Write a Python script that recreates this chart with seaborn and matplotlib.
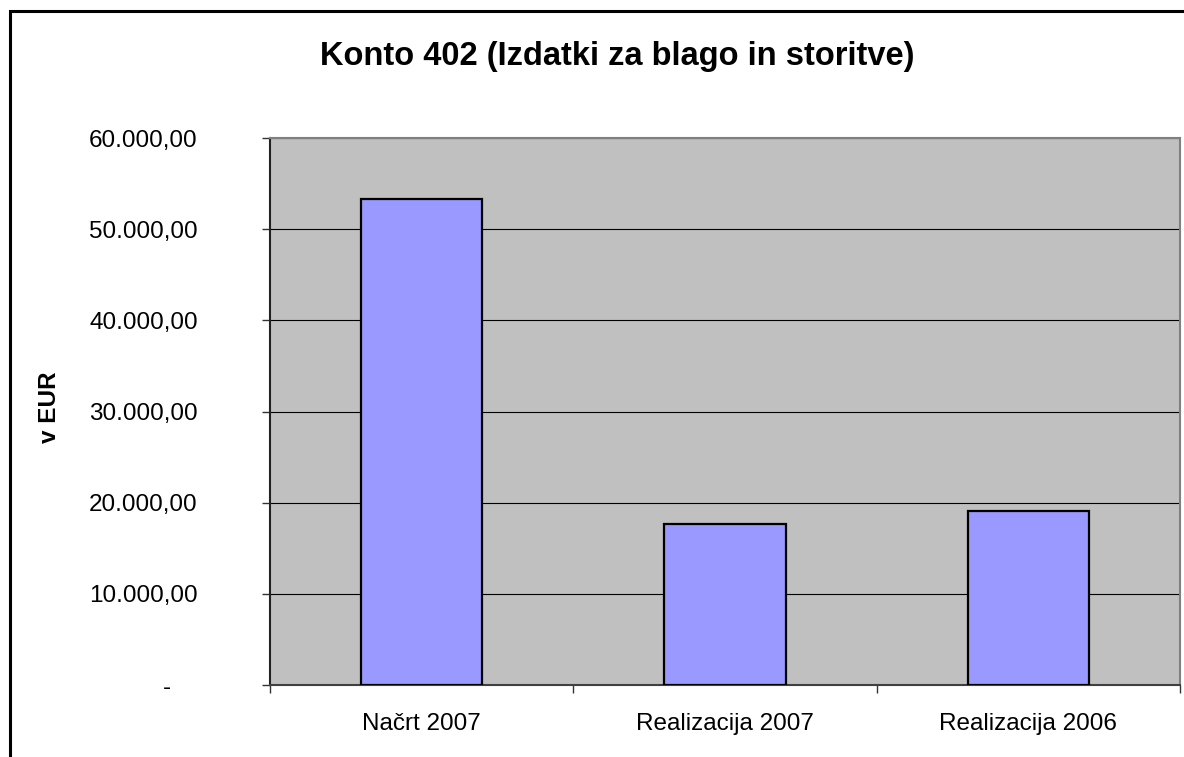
import matplotlib
matplotlib.use("Agg")
import matplotlib.pyplot as plt
import matplotlib.patches as mpatches
import seaborn as sns
import pandas as pd

# values (EUR)
categories = ["Načrt 2007", "Realizacija 2007", "Realizacija 2006"]
values = [53310, 17630, 19085]
y_ticks = [0, 10000, 20000, 30000, 40000, 50000, 60000]
y_tick_labels = ["-    ", "10.000,00", "20.000,00", "30.000,00",
                 "40.000,00", "50.000,00", "60.000,00"]
title = "Konto 402 (Izdatki za blago in storitve)"
y_label = "v EUR"

sns.set_style("white")
plt.rcParams["font.family"] = ["Liberation Sans", "DejaVu Sans"]
plt.rcParams["text.color"] = "black"
plt.rcParams["axes.labelcolor"] = "black"
plt.rcParams["xtick.color"] = "black"
plt.rcParams["ytick.color"] = "black"

df = pd.DataFrame({"cat": categories, "val": values})

fig = plt.figure(figsize=(11.84, 7.57), dpi=100)
ax = fig.add_axes([270 / 1184, 1 - 685 / 757, 910 / 1184, 547 / 757])
ax.set_facecolor("#C0C0C0")

sns.barplot(data=df, x="cat", y="val", ax=ax, width=0.4, color="#9999FF",
            edgecolor="black", linewidth=1.6, saturation=1, zorder=3)

ax.set_xlim(-0.5, 2.5)
ax.set_ylim(0, 60000)
ax.set_yticks(y_ticks)
ax.set_yticklabels(y_tick_labels, fontsize=17.5)
ax.yaxis.grid(True, color="black", linewidth=0.8, zorder=1)
ax.set_axisbelow(True)

# x ticks: labels at centres, tick marks at category boundaries
ax.set_xticks(range(len(categories)))
ax.set_xticklabels(categories, fontsize=17.5)
ax.set_xticks([-0.5, 0.5, 1.5, 2.5], minor=True)
ax.tick_params(axis="x", which="major", bottom=True, length=0, pad=20)
ax.tick_params(axis="x", which="minor", bottom=True, length=6, width=1,
               color="#333333", direction="out")
ax.tick_params(axis="y", left=True, length=6, width=1, color="#333333",
               direction="out", pad=46)
ax.set_xlabel("")
ax.set_ylabel(y_label, fontsize=17.5, fontweight="bold")
ax.yaxis.set_label_coords(-0.23, 0.508)

for side, col in [("left", "#222222"), ("bottom", "#404040"), ("top", "#808080"), ("right", "#808080")]:
    ax.spines[side].set_visible(True)
    ax.spines[side].set_color(col)
    ax.spines[side].set_linewidth(1.5)

fig.text(617 / 1184, 1 - 57 / 757, title, fontsize=23.5, fontweight="bold",
         ha="center", va="center")

# outer chart border (runs off the right and bottom edges)
border = mpatches.Rectangle((10 / 1184, -0.1), 1.2, 1 - 11 / 757 + 0.1,
                            transform=fig.transFigure, fill=False,
                            edgecolor="black", linewidth=2.2, clip_on=False)
fig.patches.append(border)

fig.savefig("out.png", dpi=100)
